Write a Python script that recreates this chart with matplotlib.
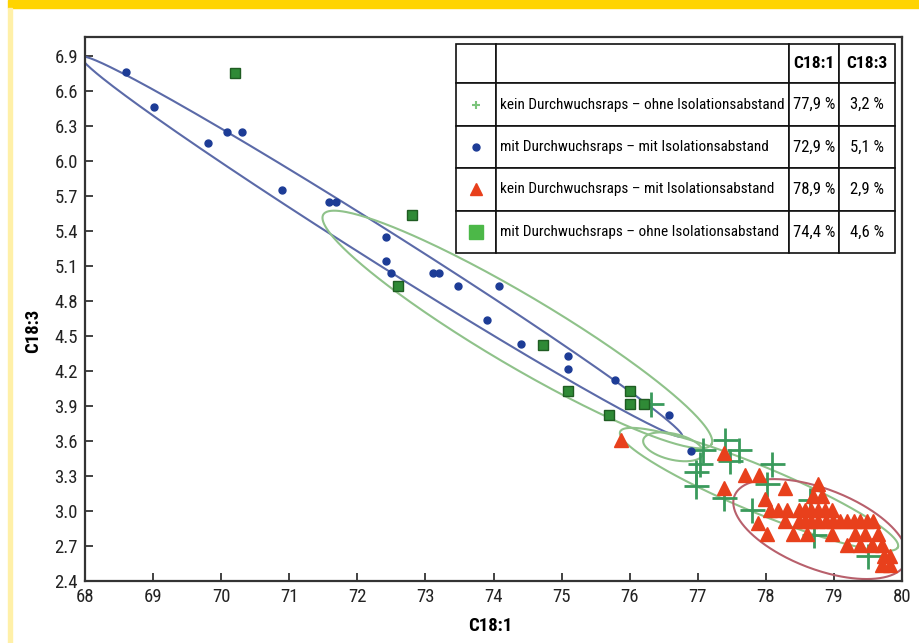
import matplotlib
matplotlib.use("Agg")
import matplotlib.pyplot as plt
import matplotlib.font_manager as fm
import numpy as np
from matplotlib.table import Table
from matplotlib.patches import Rectangle

# --- data ---
blue_x = [68.60, 69.01, 69.81, 70.09, 70.30, 70.89, 71.59, 71.69, 72.42, 72.42, 72.49,
          73.11, 73.20, 73.48, 74.08, 73.91, 74.40, 75.09, 75.09, 75.79, 76.58, 76.90]
blue_y = [6.76, 6.46, 6.15, 6.25, 6.25, 5.75, 5.65, 5.65, 5.35, 5.14, 5.04,
          5.04, 5.04, 4.93, 4.93, 4.64, 4.43, 4.33, 4.22, 4.12, 3.82, 3.51]

square_x = [70.21, 72.81, 72.60, 74.72, 75.10, 75.70, 76.00, 76.00, 76.21]
square_y = [6.75, 5.54, 4.93, 4.42, 4.03, 3.82, 4.03, 3.92, 3.92]

plus_x = [76.31, 77.40, 77.08, 77.60, 77.47, 77.03, 76.98, 76.98, 77.38,
          78.09, 78.01, 77.79, 78.65, 78.71, 79.50]
plus_y = [3.92, 3.61, 3.52, 3.52, 3.43, 3.40, 3.33, 3.21, 3.11,
          3.40, 3.23, 3.01, 3.09, 2.79, 2.61]

tri_x = [75.88, 77.39, 77.38, 77.69, 77.90, 77.99, 78.28, 78.77, 78.70, 78.82,
         78.06, 78.18, 78.31, 78.48, 78.58, 78.67, 78.77, 78.87, 78.97,
         77.89, 78.28, 78.48, 78.58, 78.67, 78.77, 78.89, 78.99, 79.09, 79.19,
         79.29, 79.38, 79.48, 79.58,
         78.01, 78.40, 78.60, 78.97, 79.31, 79.46, 79.65,
         79.19, 79.38, 79.56, 79.70,
         79.73, 79.82, 79.70, 79.82]
tri_y = [3.61, 3.50, 3.20, 3.31, 3.31, 3.10, 3.20, 3.23, 3.13, 3.13,
         3.01, 3.01, 3.01, 3.01, 3.01, 3.01, 3.01, 3.01, 3.01,
         2.90, 2.91, 2.91, 2.91, 2.91, 2.91, 2.91, 2.91, 2.91, 2.91,
         2.91, 2.91, 2.91, 2.91,
         2.80, 2.80, 2.80, 2.80, 2.80, 2.80, 2.80,
         2.71, 2.71, 2.71, 2.71,
         2.61, 2.61, 2.54, 2.54]

# ellipses: two tips (data) + half width in pixels
ellipses = [
    ((67.95, 6.89), (76.77, 3.64), 17, '#5b6aa8'),
    ((71.50, 5.54), (77.20, 3.57), 35, '#8fc28a'),
    ((76.20, 3.61), (77.08, 3.49), 13, '#8fc28a'),
    ((75.86, 3.68), (79.94, 2.69), 23, '#8fc28a'),
    ((77.54, 3.13), (80.06, 2.56), 40, '#b8606c'),
]

legend_labels = ['kein Durchwuchsraps – ohne Isolationsabstand',
                 'mit Durchwuchsraps – mit Isolationsabstand',
                 'kein Durchwuchsraps – mit Isolationsabstand',
                 'mit Durchwuchsraps – ohne Isolationsabstand']
c181 = ['77,9 %', '72,9 %', '78,9 %', '74,4 %']
c183 = ['3,2 %', '5,1 %', '2,9 %', '4,6 %']


# look for a narrow font, the original uses a condensed grotesk
def pick_font():
    entries = fm.fontManager.ttflist
    names = {e.name for e in entries}
    for p in ['Liberation Sans Narrow', 'Roboto Condensed', 'Open Sans Condensed',
              'Noto Sans Condensed', 'DejaVu Sans Condensed']:
        if p in names:
            return p, 'normal', True
    for e in entries:
        if str(e.stretch) in ('condensed', 'semi-condensed', 'extra-condensed'):
            return e.name, e.stretch, True
    return 'Liberation Sans', 'normal', False


font_name, font_stretch, narrow = pick_font()
plt.rcParams['font.family'] = [font_name, 'DejaVu Sans']
plt.rcParams['font.stretch'] = font_stretch
tick_size = 13.5 if narrow else 11
label_size = 11 if narrow else 9.6
num_size = 12 if narrow else 10

fig = plt.figure(figsize=(9.19, 6.43), dpi=100)
# yellow page decorations
fig.patches.append(Rectangle((8 / 919, 1 - 8 / 643), 1, 8 / 643, transform=fig.transFigure,
                             color='#ffd400', zorder=0))
fig.patches.append(Rectangle((8 / 919, 0), 4 / 919, 1 - 8 / 643, transform=fig.transFigure,
                             color='#fff0a8', zorder=0))

ax = fig.add_axes([85 / 919, 62 / 643, 817 / 919, 544 / 643])
ax.set_xlim(68, 80)
ax.set_ylim(2.4, 2.4 + 544 / 116.7)

bb = ax.get_window_extent()
sx = bb.width / 12.0
sy = bb.height / (544 / 116.7)


def draw_ellipse(p1, p2, hw, color):
    cx, cy = (p1[0] + p2[0]) / 2, (p1[1] + p2[1]) / 2
    dx, dy = (p2[0] - p1[0]) * sx / 2, (p2[1] - p1[1]) * sy / 2
    a = np.hypot(dx, dy)
    ux, uy = dx / a, dy / a
    t = np.linspace(0, 2 * np.pi, 300)
    px = a * np.cos(t) * ux - hw * np.sin(t) * uy
    py = a * np.cos(t) * uy + hw * np.sin(t) * ux
    ax.plot(cx + px / sx, cy + py / sy, color=color, lw=1.5, zorder=2)


for p1, p2, hw, col in ellipses:
    draw_ellipse(p1, p2, hw, col)

ax.plot(plus_x, plus_y, '+', color='#3a9a5c', ms=18, mew=2, ls='none', zorder=3)
ax.plot(blue_x, blue_y, 'o', color='#1d3c96', ms=5, ls='none', zorder=4)
ax.plot(square_x, square_y, 's', mfc='#2f8a36', mec='#1f5c22', ms=7.5, ls='none', zorder=4)
ax.plot(tri_x, tri_y, '^', color='#e8401c', ms=10, ls='none', zorder=5)

ax.set_xticks(np.arange(68, 81, 1))
ax.set_yticks(np.arange(2.4, 6.95, 0.3))
ax.set_yticklabels([f'{v:.1f}' for v in np.arange(2.4, 6.95, 0.3)])
ax.tick_params(direction='in', length=6, width=1.2, labelsize=tick_size, colors='#222222', pad=5)
for s in ax.spines.values():
    s.set_linewidth(1.6)
    s.set_color('#333333')

ax.set_xlabel('C18:1', fontsize=13.5, fontweight='bold')
ax.set_ylabel('C18:3', fontsize=13.5, fontweight='bold')
ax.xaxis.set_label_coords(0.496, -0.066)
ax.yaxis.set_label_coords(-0.053, 0.46)

# legend table
tab = Table(ax, bbox=[0.454, 0.603, 0.537, 0.384])
col_w = [40, 293, 50, 56]
row_h = [39, 43, 42, 43, 42]
cells = [['', '', 'C18:1', 'C18:3']]
for i in range(4):
    cells.append(['', legend_labels[i], c181[i], c183[i]])
tab.auto_set_font_size(False)
for r in range(5):
    for c in range(4):
        loc = 'left' if c == 1 else 'center'
        cell = tab.add_cell(r, c, width=col_w[c], height=row_h[r], text=cells[r][c],
                            loc=loc, edgecolor='#111111', facecolor='white')
        cell.set_linewidth(1.2)
        cell.PAD = 0.015 if c == 1 else 0.04
        cell.get_text().set_fontsize(label_size if c == 1 else num_size)
        if r == 0:
            cell.get_text().set_fontweight('bold')
            cell.get_text().set_fontsize(num_size + 0.5)
tab.set_zorder(10)
ax.add_table(tab)

# legend markers inside the first column
mx = 0.454 + 0.537 * 20 / 439
row_tops = np.cumsum([0] + row_h)
leg_y = [0.987 - 0.384 * (row_tops[i + 1] + row_h[i + 1] / 2) / 209 for i in range(4)]
ax.plot(mx, leg_y[0], '+', color='#7cc47c', ms=6, mew=1.5, transform=ax.transAxes, zorder=11, clip_on=False)
ax.plot(mx, leg_y[1], 'o', color='#1d3c96', ms=5, transform=ax.transAxes, zorder=11, clip_on=False)
ax.plot(mx, leg_y[2], '^', color='#e8401c', ms=9, transform=ax.transAxes, zorder=11, clip_on=False)
ax.plot(mx, leg_y[3], 's', color='#4cb848', ms=10, transform=ax.transAxes, zorder=11, clip_on=False)

fig.savefig('out.png', dpi=100)
